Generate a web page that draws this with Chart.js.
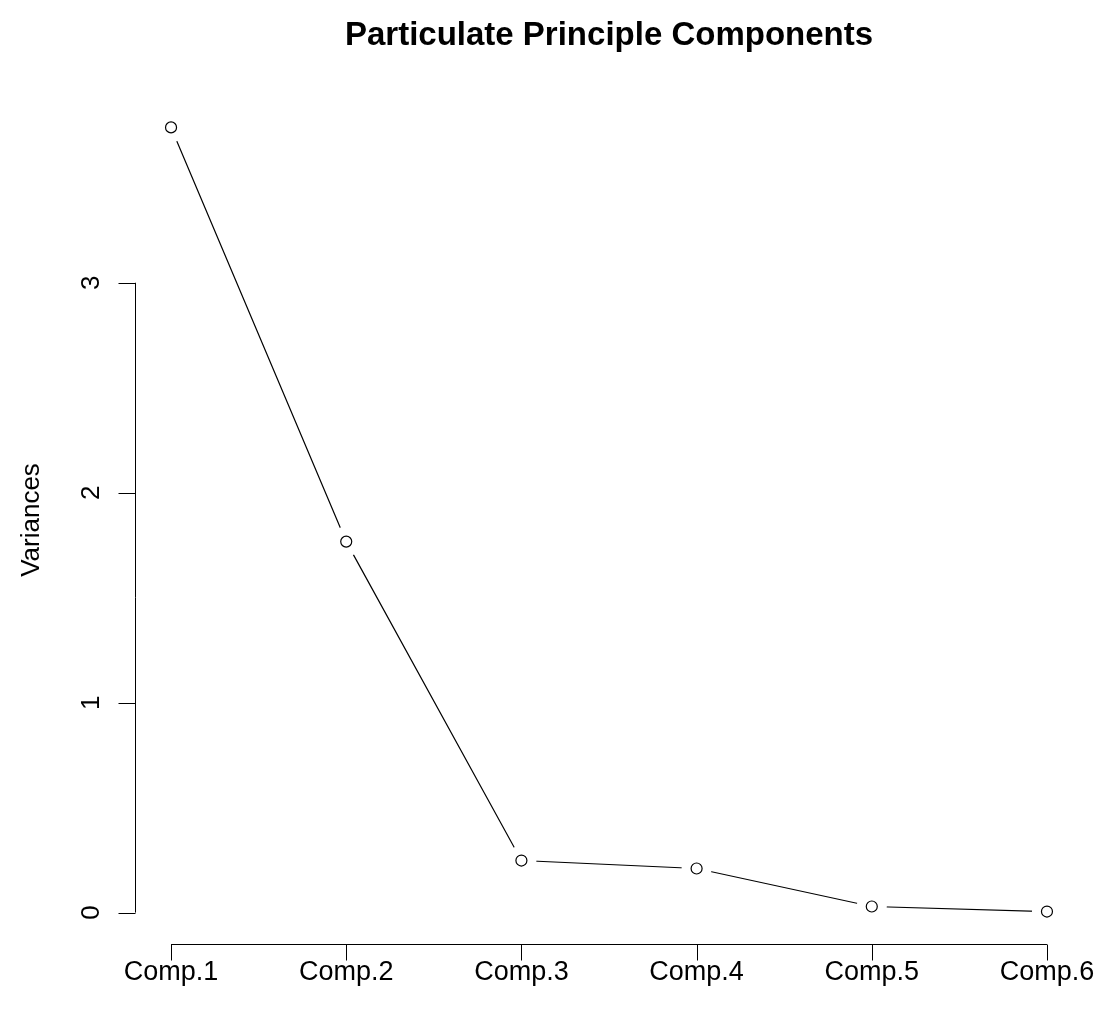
<!DOCTYPE html>
<html>
<head>
<meta charset="utf-8">
<title>Particulate Principle Components</title>
<script src="https://cdn.jsdelivr.net/npm/chart.js@4"></script>
<style>
  html, body { margin: 0; padding: 0; background: #fff; }
  canvas { display: block; }
</style>
</head>
<body>
<canvas id="scree" width="1101" height="1018"></canvas>
<script>
const components = ['Comp.1', 'Comp.2', 'Comp.3', 'Comp.4', 'Comp.5', 'Comp.6'];
const variances = [3.74, 1.767, 0.248, 0.21, 0.029, 0.005];
const yTicks = [0, 1, 2, 3];

const FONT = '"Liberation Sans", Arial, sans-serif';

// R-style axes: lines only span the first to last tick, sitting off the plot region
const baseAxes = {
  id: 'baseAxes',
  afterDraw(chart) {
    const { ctx, chartArea, scales: { x, y } } = chart;
    ctx.save();
    ctx.strokeStyle = '#000';
    ctx.fillStyle = '#000';
    ctx.lineWidth = 1;

    // y axis
    const yAxisX = chartArea.left - 0.5;
    ctx.beginPath();
    ctx.moveTo(yAxisX, y.getPixelForValue(yTicks[0]));
    ctx.lineTo(yAxisX, y.getPixelForValue(yTicks[yTicks.length - 1]));
    yTicks.forEach(v => {
      const py = Math.round(y.getPixelForValue(v)) + 0.5;
      ctx.moveTo(yAxisX, py);
      ctx.lineTo(yAxisX - 17, py);
    });
    ctx.stroke();

    ctx.font = '26px ' + FONT;
    ctx.textAlign = 'center';
    ctx.textBaseline = 'alphabetic';
    yTicks.forEach(v => {
      ctx.save();
      ctx.translate(99, y.getPixelForValue(v));
      ctx.rotate(-Math.PI / 2);
      ctx.fillText(String(v), 0, 0);
      ctx.restore();
    });

    // x axis
    const xAxisY = chartArea.bottom + 0.5;
    ctx.beginPath();
    ctx.moveTo(x.getPixelForValue(1), xAxisY);
    ctx.lineTo(x.getPixelForValue(components.length), xAxisY);
    components.forEach((c, i) => {
      const px = Math.round(x.getPixelForValue(i + 1)) + 0.5;
      ctx.moveTo(px, xAxisY);
      ctx.lineTo(px, xAxisY + 16);
    });
    ctx.stroke();
    ctx.font = '27px ' + FONT;
    components.forEach((c, i) => {
      ctx.fillText(c, x.getPixelForValue(i + 1), 980);
    });

    // axis title
    ctx.font = '26px ' + FONT;
    ctx.save();
    ctx.translate(39, (chartArea.top + chartArea.bottom) / 2);
    ctx.rotate(-Math.PI / 2);
    ctx.fillText('Variances', 0, 0);
    ctx.restore();

    // main title
    ctx.font = 'bold 33px ' + FONT;
    ctx.fillText('Particulate Principle Components', (chartArea.left + chartArea.right) / 2, 45);
    ctx.restore();
  }
};

const points = variances.map((v, i) => ({ x: i + 1, y: v }));

new Chart(document.getElementById('scree'), {
  type: 'line',
  data: {
    datasets: [
      {
        // open circle markers
        data: points,
        showLine: false,
        order: 0,
        pointRadius: 5.5,
        pointBorderWidth: 1.2,
        pointBorderColor: '#000',
        pointBackgroundColor: '#fff'
      },
      {
        // connecting line, broken around each marker
        data: points,
        order: 1,
        borderColor: '#000',
        borderWidth: 1.2,
        tension: 0,
        pointRadius: 15,
        pointBorderWidth: 0,
        pointBorderColor: '#fff',
        pointBackgroundColor: '#fff'
      }
    ]
  },
  options: {
    responsive: false,
    animation: false,
    devicePixelRatio: 1,
    layout: { padding: { left: 136, right: 19, top: 96, bottom: 74 } },
    plugins: { legend: { display: false }, tooltip: { enabled: false } },
    scales: {
      x: { type: 'linear', min: 0.8, max: 6.2, display: false },
      y: { type: 'linear', min: -0.1496, max: 3.8896, display: false }
    }
  },
  plugins: [baseAxes]
});
</script>
</body>
</html>
